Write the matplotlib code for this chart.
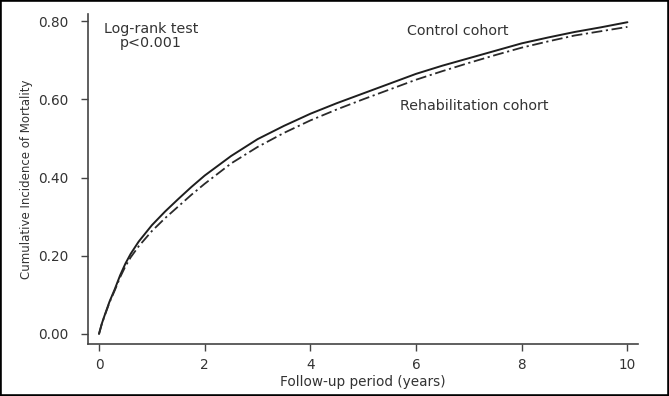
import matplotlib
matplotlib.use("Agg")
import matplotlib.pyplot as plt
from matplotlib.patches import Rectangle

# Data
years = [0, 0.05, 0.1, 0.2, 0.3, 0.4, 0.5, 0.6, 0.75, 1, 1.25, 1.5, 1.75, 2,
         2.5, 3, 3.5, 4, 4.5, 5, 5.5, 6, 6.5, 7, 7.5, 8, 8.5, 9, 9.5, 10]
control = [0, 0.025, 0.045, 0.083, 0.115, 0.150, 0.180, 0.205, 0.236, 0.278,
           0.313, 0.345, 0.376, 0.405, 0.455, 0.498, 0.532, 0.563, 0.590,
           0.615, 0.640, 0.665, 0.686, 0.705, 0.724, 0.743, 0.758, 0.772,
           0.784, 0.797]
rehab = [0, 0.024, 0.044, 0.081, 0.112, 0.145, 0.173, 0.196, 0.224, 0.263,
         0.296, 0.326, 0.356, 0.384, 0.436, 0.478, 0.514, 0.546, 0.574,
         0.600, 0.625, 0.650, 0.672, 0.693, 0.713, 0.732, 0.748, 0.763,
         0.774, 0.785]
xticks = [0, 2, 4, 6, 8, 10]
yticks = [0.0, 0.2, 0.4, 0.6, 0.8]
ytick_labels = ["0.00", "0.20", "0.40", "0.60", "0.80"]

plt.rcParams['font.family'] = ['DejaVu Sans']
txt = '#333333'

W, H = 669, 396
fig = plt.figure(figsize=(W / 100, H / 100), dpi=100)
fig.patch.set_facecolor('white')

ax = fig.add_axes([88 / W, (H - 344) / H, 550 / W, 330 / H])
ax.plot(years, control, color='#1e1e1e', lw=1.4, solid_capstyle='round')
ax.plot(years, rehab, color='#2a2a2a', lw=1.3, linestyle=(0, (6, 2, 1.2, 2)))

ax.set_xlim(-0.208, 10.2)
ax.set_ylim(-0.0256, 0.818)
ax.set_xticks(xticks)
ax.set_yticks(yticks)
ax.set_yticklabels(ytick_labels)

for s in ['top', 'right']:
    ax.spines[s].set_visible(False)
for s in ['left', 'bottom']:
    ax.spines[s].set_color('#444444')
    ax.spines[s].set_linewidth(1.2)
ax.tick_params(axis='both', direction='out', length=5, width=1.0,
               color='#444444', labelcolor=txt, labelsize=9.8)
ax.tick_params(axis='x', pad=5)
ax.tick_params(axis='y', pad=9)

ax.set_xlabel('Follow-up period (years)', fontsize=9.8, color=txt, labelpad=2)
ax.set_ylabel('Cumulative Incidence of Mortality', fontsize=8.5, color=txt,
              labelpad=4)

ax.text(0.98, 0.761, 'Log-rank test\np<0.001', ha='center', va='center',
        fontsize=10.3, color=txt, linespacing=1.0)
ax.text(6.78, 0.775, 'Control cohort', ha='center', va='center',
        fontsize=10.3, color=txt)
ax.text(7.1, 0.583, 'Rehabilitation cohort', ha='center', va='center',
        fontsize=10.3, color=txt)

fig.patches.append(Rectangle((0, 0), 1, 1, transform=fig.transFigure,
                             fill=False, edgecolor='black', linewidth=2.6))

fig.savefig('out.png', dpi=100)
